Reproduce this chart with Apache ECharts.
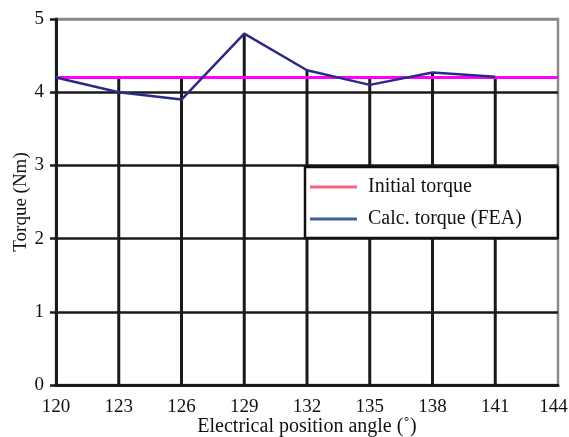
<!DOCTYPE html>
<html><head><meta charset="utf-8">
<script src="https://cdn.jsdelivr.net/npm/echarts@6/dist/echarts.min.js"></script>
<style>html,body{margin:0;padding:0;background:#fff}#c{width:569px;height:437px}</style>
</head><body><div id="c"></div>
<script>
const angles = [120, 123, 126, 129, 132, 135, 138, 141];
const initialTorque = [4.2, 4.2, 4.2, 4.2, 4.2, 4.2, 4.2, 4.2, 4.2];
const initialAngles = [120, 123, 126, 129, 132, 135, 138, 141, 144];
const calcTorque = [4.2, 4.0, 3.9, 4.8, 4.3, 4.1, 4.27, 4.21];
const xTicks = [120, 123, 126, 129, 132, 135, 138, 141, 144];
const yTicks = [0, 1, 2, 3, 4, 5];

const font = 'Liberation Serif';
const dropLines = angles.slice(1).map((a, i) => [a, Math.max(calcTorque[i + 1], initialTorque[i + 1])]);
const xMax = xTicks[xTicks.length - 1];

const chart = echarts.init(document.getElementById('c'));
chart.setOption({
  animation: false,
  grid: { left: 56, right: 11, top: 19, bottom: 52, outerBoundsMode: 'none', containLabel: false, show: true, borderColor: '#8a8a8a', borderWidth: 2.5, backgroundColor: '#fff' },
  xAxis: {
    type: 'value', min: xTicks[0], max: xMax, interval: 3,
    name: 'Electrical position angle (˚)', nameLocation: 'middle', nameGap: 32, nameMoveOverlap: false,
    nameTextStyle: { fontFamily: font, fontSize: 20, color: '#111' },
    axisLine: { lineStyle: { color: '#1a1a1a', width: 3 } },
    axisTick: { show: false },
    splitLine: { show: false },
    axisLabel: {
      fontFamily: font, fontSize: 19, color: '#111', margin: 13,
      formatter: v => v === xMax ? '{m|' + v + '}' : String(v),
      rich: { m: { fontFamily: font, fontSize: 19, color: '#111', padding: [0, 9, 0, 0] } }
    }
  },
  yAxis: {
    type: 'value', min: yTicks[0], max: yTicks[yTicks.length - 1], interval: 1,
    name: 'Torque (Nm)', nameLocation: 'middle', nameGap: 25, nameMoveOverlap: false,
    nameTextStyle: { fontFamily: font, fontSize: 19, color: '#111' },
    axisLine: { show: true, lineStyle: { color: '#1a1a1a', width: 3 } },
    axisTick: { show: true, length: 6, lineStyle: { color: '#1a1a1a', width: 2.5 } },
    splitLine: { show: true, lineStyle: { color: ['#1a1a1a', '#1a1a1a', '#1a1a1a', '#1a1a1a', '#1a1a1a', '#8a8a8a'], width: 2.5 } },
    axisLabel: { fontFamily: font, fontSize: 19, color: '#111', margin: 12 }
  },
  legend: {
    orient: 'vertical', left: 305, top: 167,
    padding: [9, 36, 8, 5], itemGap: 10,
    backgroundColor: '#fff', borderColor: '#111', borderWidth: 2.5,
    itemWidth: 47, itemHeight: 3, icon: 'rect',
    textStyle: { fontFamily: font, fontSize: 20, color: '#111', padding: [0, 0, 0, 6], lineHeight: 22 },
    data: [
      { name: 'Initial torque', itemStyle: { color: '#f3647f' } },
      { name: 'Calc. torque (FEA)', itemStyle: { color: '#3f5d97' } }
    ]
  },
  series: [
    {
      name: 'drop', type: 'bar', barWidth: 3, z: 1,
      itemStyle: { color: '#1a1a1a' },
      data: dropLines, silent: true
    },
    {
      name: 'Initial torque', type: 'line', z: 3, symbol: 'none',
      lineStyle: { color: '#ff00ff', width: 3 }, itemStyle: { color: '#f3647f' },
      data: initialAngles.map((a, i) => [a, initialTorque[i]])
    },
    {
      name: 'Calc. torque (FEA)', type: 'line', z: 4, symbol: 'none',
      lineStyle: { color: '#2b2b85', width: 2.5 }, itemStyle: { color: '#3f5d97' },
      data: angles.map((a, i) => [a, calcTorque[i]])
    }
  ]
});
</script></body></html>
